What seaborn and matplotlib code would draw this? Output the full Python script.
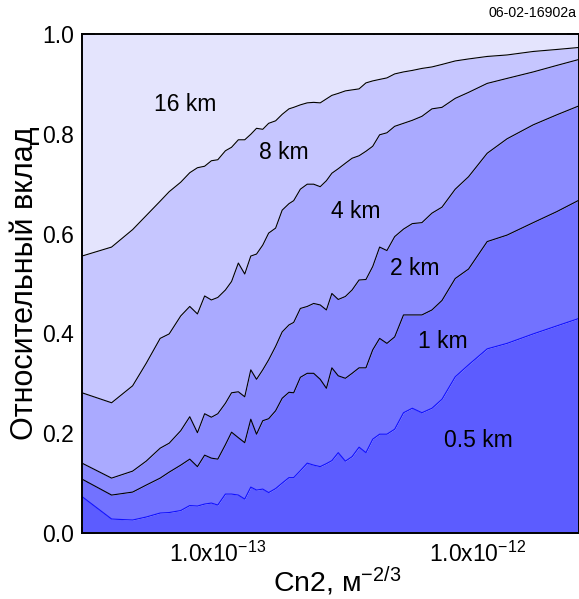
import numpy as np
import pandas as pd
import matplotlib
matplotlib.use("Agg")
import matplotlib.pyplot as plt
import matplotlib.ticker as mticker
import seaborn as sns

# ---- data ----
cn2 = [3.0e-14, 3.9e-14, 4.7e-14, 5.3e-14, 6.0e-14, 6.5e-14, 7.2e-14, 7.8e-14, 8.35e-14, 8.9e-14,
       9.45e-14, 1.0e-13, 1.07e-13, 1.13e-13, 1.2e-13, 1.27e-13, 1.34e-13, 1.41e-13, 1.49e-13, 1.57e-13,
       1.67e-13, 1.77e-13, 1.88e-13, 1.96e-13, 2.08e-13, 2.21e-13, 2.34e-13, 2.48e-13, 2.62e-13, 2.75e-13,
       2.91e-13, 3.10e-13, 3.29e-13, 3.50e-13, 3.72e-13, 3.95e-13, 4.20e-13, 4.48e-13, 4.80e-13, 5.19e-13,
       5.61e-13, 6.11e-13, 6.68e-13, 7.30e-13, 8.21e-13, 9.24e-13, 1.09e-12, 1.30e-12, 1.64e-12, 2.02e-12,
       2.46e-12]

# cumulative upper boundary of each height layer
cum_0_5km = [0.073, 0.028, 0.026, 0.032, 0.040, 0.041, 0.045, 0.055, 0.054, 0.058,
             0.060, 0.056, 0.078, 0.078, 0.076, 0.068, 0.092, 0.086, 0.088, 0.081,
             0.089, 0.100, 0.111, 0.111, 0.125, 0.140, 0.136, 0.133, 0.139, 0.145,
             0.161, 0.144, 0.153, 0.172, 0.161, 0.188, 0.198, 0.198, 0.208, 0.241,
             0.250, 0.241, 0.250, 0.268, 0.313, 0.337, 0.369, 0.380, 0.399, 0.415,
             0.430]
cum_1km = [0.108, 0.076, 0.082, 0.096, 0.110, 0.122, 0.136, 0.148, 0.133, 0.156,
           0.150, 0.148, 0.177, 0.202, 0.191, 0.181, 0.228, 0.198, 0.225, 0.229,
           0.245, 0.270, 0.282, 0.281, 0.312, 0.320, 0.320, 0.308, 0.290, 0.331,
           0.315, 0.310, 0.320, 0.331, 0.331, 0.367, 0.390, 0.380, 0.393, 0.437,
           0.437, 0.437, 0.447, 0.466, 0.510, 0.529, 0.584, 0.597, 0.622, 0.644,
           0.667]
cum_2km = [0.140, 0.110, 0.124, 0.144, 0.170, 0.180, 0.205, 0.233, 0.201, 0.239,
           0.232, 0.239, 0.260, 0.281, 0.283, 0.273, 0.327, 0.308, 0.327, 0.347,
           0.374, 0.403, 0.417, 0.422, 0.450, 0.454, 0.460, 0.457, 0.447, 0.480,
           0.468, 0.474, 0.487, 0.507, 0.508, 0.534, 0.573, 0.566, 0.594, 0.609,
           0.620, 0.622, 0.641, 0.653, 0.689, 0.714, 0.761, 0.790, 0.818, 0.838,
           0.856]
cum_4km = [0.281, 0.261, 0.295, 0.340, 0.390, 0.399, 0.435, 0.454, 0.439, 0.475,
           0.467, 0.472, 0.487, 0.504, 0.541, 0.519, 0.555, 0.559, 0.577, 0.601,
           0.611, 0.647, 0.660, 0.666, 0.689, 0.699, 0.699, 0.694, 0.706, 0.721,
           0.730, 0.741, 0.751, 0.756, 0.765, 0.775, 0.798, 0.802, 0.815, 0.821,
           0.827, 0.835, 0.850, 0.853, 0.871, 0.883, 0.901, 0.911, 0.924, 0.937,
           0.949]
cum_8km = [0.555, 0.573, 0.608, 0.636, 0.665, 0.684, 0.703, 0.722, 0.732, 0.735,
           0.746, 0.748, 0.766, 0.773, 0.788, 0.788, 0.799, 0.811, 0.809, 0.821,
           0.826, 0.839, 0.850, 0.853, 0.858, 0.862, 0.863, 0.862, 0.870, 0.877,
           0.881, 0.886, 0.888, 0.890, 0.902, 0.906, 0.909, 0.912, 0.920, 0.924,
           0.927, 0.931, 0.934, 0.939, 0.946, 0.950, 0.955, 0.958, 0.965, 0.969,
           0.973]
cum_16km = [1.0] * len(cn2)

layer_names = ["0.5 km", "1 km", "2 km", "4 km", "8 km", "16 km"]
layer_colors = ["#5c5cff", "#7272ff", "#8a8aff", "#aaaaff", "#c6c6ff", "#e4e4fd"]
label_x = [1.01e-12, 7.38e-13, 5.71e-13, 3.39e-13, 1.79e-13, 7.5e-14]
label_y = [0.186, 0.383, 0.531, 0.645, 0.762, 0.858]
line_colors = ["#1010ff", "black", "black", "black", "black"]

x_ticks = [1e-13, 1e-12]
x_ticklabels = ["1.0x10$^{-13}$", "1.0x10$^{-12}$"]
y_ticks = [0.0, 0.2, 0.4, 0.6, 0.8, 1.0]

# ---- plotting ----
sns.set_style("ticks")
plt.rcParams["font.family"] = ["Liberation Sans", "DejaVu Sans"]
plt.rcParams["mathtext.fontset"] = "custom"
plt.rcParams["mathtext.rm"] = "Liberation Sans"
plt.rcParams["mathtext.it"] = "Liberation Sans"
plt.rcParams["mathtext.default"] = "regular"
for key in ["text.color", "axes.labelcolor", "xtick.color", "ytick.color", "axes.edgecolor"]:
    plt.rcParams[key] = "black"

fig = plt.figure(figsize=(5.79, 5.99), dpi=100)
ax = fig.add_axes([82 / 579, 66 / 599, 497 / 579, 499 / 599])

bounds = [np.zeros(len(cn2)), cum_0_5km, cum_1km, cum_2km, cum_4km, cum_8km, cum_16km]
for i in range(6):
    ax.fill_between(cn2, bounds[i], bounds[i + 1], color=layer_colors[i], linewidth=0, zorder=1)

df = pd.DataFrame({"cn2": cn2 * 5,
                   "val": cum_0_5km + cum_1km + cum_2km + cum_4km + cum_8km,
                   "layer": sum([[n] * len(cn2) for n in layer_names[:5]], [])})
sns.lineplot(data=df, x="cn2", y="val", hue="layer", palette=line_colors,
             estimator=None, sort=False, linewidth=0.8, legend=False, ax=ax, zorder=2)

for name, lx, ly in zip(layer_names, label_x, label_y):
    ax.text(lx, ly, name, fontsize=16.5, ha="center", va="center", color="black", zorder=3)

ax.set_xscale("log")
ax.set_xlim(3.0e-14, 2.46e-12)
ax.set_ylim(0, 1)
ax.xaxis.set_major_locator(mticker.FixedLocator(x_ticks))
ax.xaxis.set_major_formatter(mticker.FixedFormatter(x_ticklabels))
ax.xaxis.set_minor_locator(mticker.LogLocator(base=10, subs=np.arange(2, 10)))
ax.xaxis.set_minor_formatter(mticker.NullFormatter())
ax.yaxis.set_major_locator(mticker.FixedLocator(y_ticks))
ax.yaxis.set_major_formatter(mticker.FormatStrFormatter("%.1f"))
ax.yaxis.set_minor_locator(mticker.MultipleLocator(0.1))

ax.tick_params(which="both", direction="in", top=True, right=True, width=1.2,
               color="black", labelcolor="black")
ax.tick_params(which="major", length=9, labelsize=16.5, pad=6)
ax.tick_params(which="minor", length=4.5)
for s in ax.spines.values():
    s.set_linewidth(1.4)
    s.set_color("black")
    s.set_zorder(4)

xl = ax.set_xlabel("Cn2, м$^{-2/3}$", fontsize=20.5, color="black")
xl.set_va("baseline")
ax.xaxis.set_label_coords(0.513, -0.118)
ax.set_ylabel("Относительный вклад", fontsize=22, labelpad=1, color="black")
fig.text(0.996, 0.979, "06-02-16902a", ha="right", va="center", fontsize=10.2, color="black")

fig.savefig("out.png", dpi=100)
